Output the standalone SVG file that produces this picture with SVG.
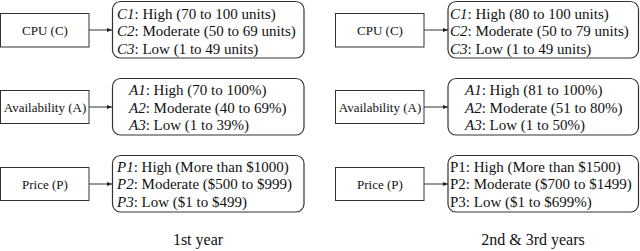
<svg xmlns="http://www.w3.org/2000/svg" width="640" height="251" viewBox="0 0 640 251">
<style>
.box{fill:#fff;stroke:#333;stroke-width:1}
.rbox{fill:#fff;stroke:#333;stroke-width:1.2}
.lbl{font-family:"Liberation Serif","Times New Roman",serif;font-size:13px;fill:#111;text-anchor:middle}
.it{font-family:"Liberation Serif","Times New Roman",serif;font-size:15px;fill:#111}
.cap{font-family:"Liberation Serif","Times New Roman",serif;font-size:16px;fill:#111;text-anchor:middle}
.con{stroke:#333;stroke-width:1;fill:none;marker-end:url(#ah)}
</style>
<defs>
<marker id="ah" viewBox="0 0 10 10" refX="10" refY="5" markerWidth="5" markerHeight="5" orient="auto" markerUnits="userSpaceOnUse">
<path d="M0,1 L10,5 L0,9 Z" fill="#222"/>
</marker>
</defs>
<g id="connectors">
<line class="con" x1="89" y1="30" x2="112" y2="30"/>
<line class="con" x1="89" y1="107" x2="112" y2="107"/>
<line class="con" x1="89" y1="184" x2="112" y2="184"/>
<line class="con" x1="424" y1="30" x2="448" y2="30"/>
<line class="con" x1="424" y1="107" x2="448" y2="107"/>
<line class="con" x1="424" y1="184" x2="448" y2="184"/>
</g>
<g id="cpu1">
<rect class="box" x="0.5" y="13.5" width="88.5" height="33.5"/>
<text class="lbl" x="45" y="35">CPU (C)</text>
</g>
<g id="cpu1-levels">
<rect class="rbox" x="112.5" y="1.5" width="191.5" height="56.5" rx="8"/>
<text class="it" x="117" y="18.5"><tspan font-style="italic">C1</tspan>: High (70 to 100 units)</text>
<text class="it" x="117" y="36"><tspan font-style="italic">C2</tspan>: Moderate (50 to 69 units)</text>
<text class="it" x="117" y="53.5"><tspan font-style="italic">C3</tspan>: Low (1 to 49 units)</text>
</g>
<g id="avail1">
<rect class="box" x="0.5" y="90.5" width="88.5" height="33"/>
<text class="lbl" x="45" y="111.5">Availability (A)</text>
</g>
<g id="avail1-levels">
<rect class="rbox" x="112.5" y="78.5" width="191.5" height="56.5" rx="8"/>
<text class="it" x="129" y="95"><tspan font-style="italic">A1</tspan>: High (70 to 100%)</text>
<text class="it" x="129" y="112.5"><tspan font-style="italic">A2</tspan>: Moderate (40 to 69%)</text>
<text class="it" x="129" y="130"><tspan font-style="italic">A3</tspan>: Low (1 to 39%)</text>
</g>
<g id="price1">
<rect class="box" x="0.5" y="167.5" width="88.5" height="33"/>
<text class="lbl" x="45" y="189">Price (P)</text>
</g>
<g id="price1-levels">
<rect class="rbox" x="112.5" y="155.5" width="191.5" height="56.5" rx="8"/>
<text class="it" x="117" y="171.5"><tspan font-style="italic">P1</tspan>: High (More than $1000)</text>
<text class="it" x="117" y="189"><tspan font-style="italic">P2</tspan>: Moderate ($500 to $999)</text>
<text class="it" x="117" y="206.5"><tspan font-style="italic">P3</tspan>: Low ($1 to $499)</text>
</g>
<g id="cpu2">
<rect class="box" x="335.5" y="13.5" width="88.5" height="33.5"/>
<text class="lbl" x="380" y="35">CPU (C)</text>
</g>
<g id="cpu2-levels">
<rect class="rbox" x="448" y="1.5" width="190.5" height="56.5" rx="8"/>
<text class="it" x="450" y="18.5"><tspan font-style="italic">C1</tspan>: High (80 to 100 units)</text>
<text class="it" x="450" y="36"><tspan font-style="italic">C2</tspan>: Moderate (50 to 79 units)</text>
<text class="it" x="450" y="53.5"><tspan font-style="italic">C3</tspan>: Low (1 to 49 units)</text>
</g>
<g id="avail2">
<rect class="box" x="335.5" y="90.5" width="88.5" height="33"/>
<text class="lbl" x="380" y="111.5">Availability (A)</text>
</g>
<g id="avail2-levels">
<rect class="rbox" x="448" y="78.5" width="190.5" height="56.5" rx="8"/>
<text class="it" x="465" y="95"><tspan font-style="italic">A1</tspan>: High (81 to 100%)</text>
<text class="it" x="465" y="112.5"><tspan font-style="italic">A2</tspan>: Moderate (51 to 80%)</text>
<text class="it" x="465" y="130"><tspan font-style="italic">A3</tspan>: Low (1 to 50%)</text>
</g>
<g id="price2">
<rect class="box" x="335.5" y="167.5" width="88.5" height="33"/>
<text class="lbl" x="380" y="189">Price (P)</text>
</g>
<g id="price2-levels">
<rect class="rbox" x="448" y="155.5" width="190.5" height="56.5" rx="8"/>
<text class="it" x="450" y="171.5">P1: High (More than $1500)</text>
<text class="it" x="450" y="189">P2: Moderate ($700 to $1499)</text>
<text class="it" x="450" y="206.5">P3: Low ($1 to $699%)</text>
</g>
<text class="cap" x="198" y="245">1st year</text>
<text class="cap" x="533" y="245">2nd &amp; 3rd years</text>
</svg>
